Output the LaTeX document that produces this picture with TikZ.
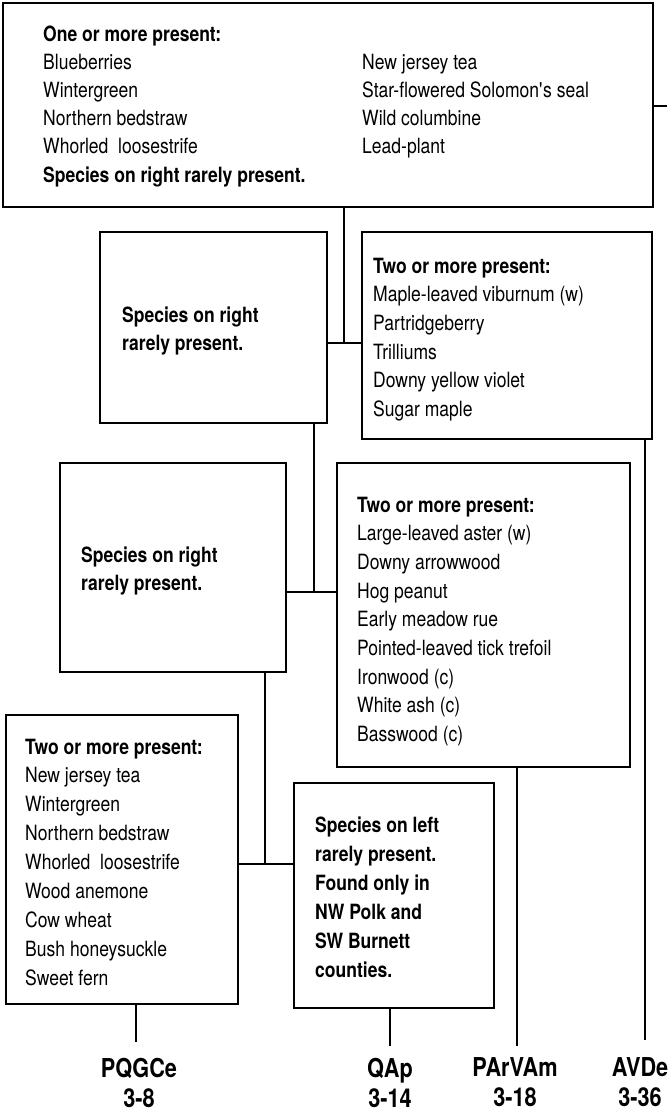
\documentclass[tikz,border=0pt]{standalone}
\usepackage{fontspec}
\setmainfont{TeX Gyre Heros}[FakeStretch=0.835]
\newcommand\lstl[1]{\begin{tabular}[t]{@{}l@{}}#1\end{tabular}}
\newcommand\lstc[1]{\begin{tabular}[t]{@{}c@{}}#1\end{tabular}}
\begin{document}
\begin{tikzpicture}[x=1pt,y=-1pt,
  box/.style={draw=black, line width=2.6pt, inner sep=0pt, rectangle},
  txt/.style={inner sep=0pt, anchor=base west, font=\fontsize{21}{28.7}\selectfont},
  lbl/.style={inner sep=0pt, anchor=base, font=\bfseries\fontsize{26}{30}\selectfont},
  conn/.style={line width=2.6pt}]
\useasboundingbox (0,0) rectangle (667,1111);

% boxes
\node[box, minimum width=650pt, minimum height=204pt] (top) at (328,105) {};
\node[box, minimum width=227pt, minimum height=191pt] (L2) at (213.5,327.5) {};
\node[box, minimum width=290pt, minimum height=207pt] (R2) at (507,335.5) {};
\node[box, minimum width=226pt, minimum height=209pt] (L3) at (173,567.5) {};
\node[box, minimum width=293pt, minimum height=304pt] (R3) at (483.5,615) {};
\node[box, minimum width=232pt, minimum height=289pt] (L4) at (122,859.5) {};
\node[box, minimum width=200pt, minimum height=225pt] (R4) at (394,895.5) {};

% texts
\node[txt, font=\fontsize{21}{28.2}\selectfont] (tTop1) at (43,41) {\lstl{\textbf{One or more present:}\\Blueberries\\Wintergreen\\Northern bedstraw\\Whorled~ loosestrife\\\textbf{Species on right rarely present.}}};
\node[txt, font=\fontsize{21}{28.2}\selectfont] (tTop2) at (362,69) {\lstl{New jersey tea\\Star-flowered Solomon\textquotesingle s seal\\Wild columbine\\Lead-plant}};
\node[txt] (tL2) at (122,322) {\lstl{\textbf{Species on right}\\\textbf{rarely present.}}};
\node[txt] (tR2) at (373,273) {\lstl{\textbf{Two or more present:}\\Maple-leaved viburnum (w)\\Partridgeberry\\Trilliums\\Downy yellow violet\\Sugar maple}};
\node[txt] (tL3) at (81,562) {\lstl{\textbf{Species on right}\\\textbf{rarely present.}}};
\node[txt] (tR3) at (357,512) {\lstl{\textbf{Two or more present:}\\Large-leaved aster (w)\\Downy arrowwood\\Hog peanut\\Early meadow rue\\Pointed-leaved tick trefoil\\Ironwood (c)\\White ash (c)\\Basswood (c)}};
\node[txt, font=\fontsize{21}{28.9}\selectfont] (tL4) at (25,754) {\lstl{\textbf{Two or more present:}\\New jersey tea\\Wintergreen\\Northern bedstraw\\Whorled~ loosestrife\\Wood anemone\\Cow wheat\\Bush honeysuckle\\Sweet fern}};
\node[txt, font=\fontsize{21}{29}\selectfont] (tR4) at (315,832) {\lstl{\textbf{Species on left}\\\textbf{rarely present.}\\\textbf{Found only in}\\\textbf{NW Polk and}\\\textbf{SW Burnett}\\\textbf{counties.}}};

% labels
\node[lbl] (lPQ) at (139,1077) {\lstc{PQGCe\\3-8}};
\node[lbl] (lQA) at (390,1077) {\lstc{QAp\\3-14}};
\node[lbl] (lPA) at (515,1076) {\lstc{PArVAm\\3-18}};
\node[lbl] (lAV) at (640,1076) {\lstc{AVDe\\3-36}};

% junctions and free ends
\coordinate (j1) at (344,343);
\coordinate (j2) at (314,592);
\coordinate (j3) at (265,864);
\coordinate (e0) at (667,106);
\coordinate (e1) at (136,1042);
\coordinate (e2) at (390,1046);
\coordinate (e3) at (517,1046);
\coordinate (e4) at (645,1040);

% connectors
\draw[conn] (j1 |- top.south) -- (j1);
\draw[conn] (L2.east |- j1) -- (R2.west |- j1);
\draw[conn] (j2 |- L2.south) -- (j2);
\draw[conn] (L3.east |- j2) -- (R3.west |- j2);
\draw[conn] (j3 |- L3.south) -- (j3);
\draw[conn] (L4.east |- j3) -- (R4.west |- j3);
\draw[conn] (top.east |- e0) -- (e0);
\draw[conn] (e1 |- L4.south) -- (e1);
\draw[conn] (e2 |- R4.south) -- (e2);
\draw[conn] (e3 |- R3.south) -- (e3);
\draw[conn] (e4 |- R2.south) -- (e4);
\end{tikzpicture}
\end{document}
